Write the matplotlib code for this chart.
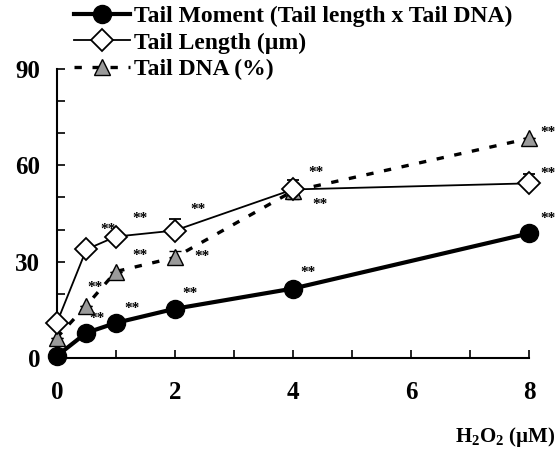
import matplotlib
matplotlib.use("Agg")
import matplotlib.pyplot as plt
from matplotlib.lines import Line2D
import numpy as np

plt.rcParams['font.family'] = ['Liberation Serif', 'DejaVu Serif']
plt.rcParams['font.weight'] = 'bold'
plt.rcParams['mathtext.fontset'] = 'custom'
plt.rcParams['mathtext.rm'] = 'Liberation Serif:bold'
plt.rcParams['mathtext.bf'] = 'Liberation Serif:bold'
plt.rcParams['hatch.color'] = '#555555'
plt.rcParams['hatch.linewidth'] = 0.6

conc = [0, 0.5, 1, 2, 4, 8]
tail_moment = [0.6, 7.8, 10.9, 15.3, 21.6, 38.8]
tail_moment_err = [0, 0, 0, 0, 0, 2.0]
tail_length = [10.9, 33.8, 37.8, 39.7, 52.5, 54.4]
tail_length_err = [0, 0, 0, 3.5, 3.0, 3.0]
tail_dna = [6.3, 16.3, 26.9, 31.3, 52.0, 68.4]
tail_dna_err = [0, 0, 0, 2.0, 2.5, 0]
labels = ['Tail Moment (Tail length x Tail DNA)', 'Tail Length (µm)', 'Tail DNA (%)']

# asterisk offsets (pixels) relative to each point
tm_star = [None, (11, 14), (16, 14), (15, 15), (15, 16), (19, 15)]
tl_star = [None, (22, 20), (24, 18), (23, 21), (23, 17), (19, 10)]
td_star = [None, (9, 18), (24, 16), (27, 1), (27, -13), (19, 6)]

fig = plt.figure(figsize=(5.57, 4.49), dpi=100)
ax = fig.add_axes([0.102, 0.203, 0.848, 0.643])

td_style = dict(color='black', lw=2.4, ls=(0, (2.2, 3.2)), marker='^', ms=12,
                mfc='#9a9a9a', mec='black', mew=1.0)
tl_style = dict(color='black', lw=1.3, marker='D', ms=11, mfc='white',
                mec='black', mew=1.3)
tm_style = dict(color='black', lw=3.0, marker='o', ms=13, mfc='black',
                mec='black')

zeros = [0] * len(conc)
ax.errorbar(conc, tail_dna, yerr=tail_dna_err, capsize=4, elinewidth=1.0,
            capthick=1.0, zorder=3, **td_style)
ax.errorbar(conc, tail_length, yerr=[zeros, tail_length_err], capsize=4,
            elinewidth=1.0, capthick=1.0, zorder=4, **tl_style)
ax.errorbar(conc, tail_moment, yerr=[zeros, tail_moment_err], capsize=4,
            elinewidth=1.0, capthick=1.0, zorder=5, **tm_style)

def stars(xs, ys, offs):
    for x, y, o in zip(xs, ys, offs):
        if o is None:
            continue
        ax.annotate('**', xy=(x, y), xytext=(o[0], o[1]),
                    textcoords='offset pixels', ha='center', va='center',
                    fontsize=11, fontweight='bold', annotation_clip=False)

stars(conc, tail_moment, tm_star)
stars(conc, tail_length, tl_star)
stars(conc, tail_dna, td_star)

ax.set_xlim(0, 8)
ax.set_ylim(0, 90)
ax.set_xticks([0, 2, 4, 6, 8])
ax.set_xticks([1, 3, 5, 7], minor=True)
ax.set_yticks([0, 30, 60, 90])
ax.set_yticks([10, 20, 40, 50, 70, 80], minor=True)
ax.tick_params(axis='both', which='both', direction='in', width=1.2,
               labelsize=18)
ax.tick_params(axis='both', which='major', length=6)
ax.tick_params(axis='both', which='minor', length=6)
ax.tick_params(axis='x', which='major', pad=17)
ax.tick_params(axis='y', which='major', pad=12)
for lab in ax.get_xticklabels() + ax.get_yticklabels():
    lab.set_fontweight('bold')
for s in ['top', 'right']:
    ax.spines[s].set_visible(False)
for s in ['left', 'bottom']:
    ax.spines[s].set_linewidth(1.5)
for c in ax.collections + ax.lines:
    c.set_clip_on(False)

handles = [Line2D([], [], **tm_style), Line2D([], [], **tl_style),
           Line2D([], [], **td_style)]
leg = fig.legend(handles, labels, loc='upper left',
                 bbox_to_anchor=(0.128, 0.992), frameon=False,
                 prop={'weight': 'bold', 'size': 17}, handlelength=2.4,
                 handletextpad=0.15, labelspacing=0.2, borderaxespad=0.0,
                 borderpad=0.1)

fig.text(0.998, 0.027, r'H$_\mathbf{2}$O$_\mathbf{2}$ (µM)', ha='right',
         va='center', fontsize=15, fontweight='bold')

fig.savefig('out.png', dpi=100)
